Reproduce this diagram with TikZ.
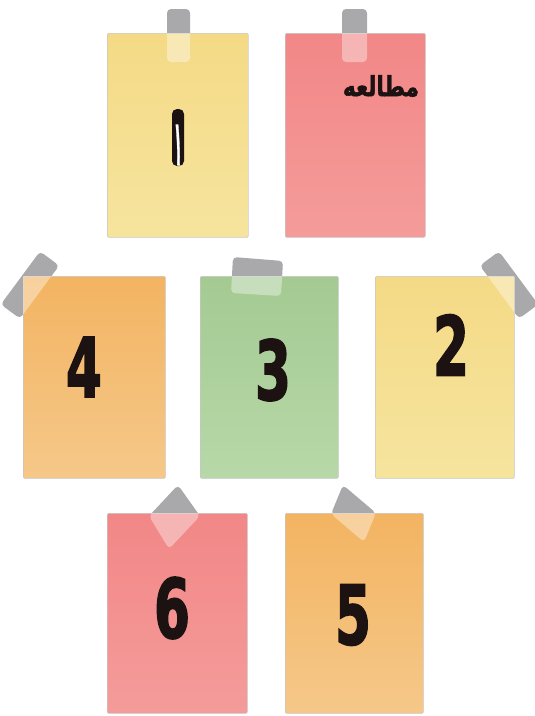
\documentclass[tikz,border=0pt]{standalone}
\usepackage{fontspec}
\usepackage{graphicx}
\TeXXeTstate=1
\newfontfamily\arabicfont[Script=Arabic, BoldFeatures={FakeBold=2}]{DejaVu Sans}
\newfontfamily\numfont[BoldFeatures={FakeBold=2.2}]{DejaVu Sans Condensed}
\definecolor{tapegray}{HTML}{A9A9AB}
\definecolor{yellowA}{HTML}{F4DA86}
\definecolor{yellowB}{HTML}{F6E49E}
\definecolor{redA}{HTML}{F28787}
\definecolor{redB}{HTML}{F49C9A}
\definecolor{orangeA}{HTML}{F3B462}
\definecolor{orangeB}{HTML}{F5C889}
\definecolor{greenA}{HTML}{A4CA92}
\definecolor{greenB}{HTML}{B7D8A8}
\definecolor{inkdark}{HTML}{1C1212}
\tikzset{
  note/.style={draw=black!22, line width=0.6pt, rounded corners=1.2pt, inner sep=0pt, anchor=north west},
  tape/.style={fill=tapegray, rounded corners=4pt},
  tapelight/.style={fill=white, opacity=0.38, rounded corners=4pt},
  num/.style={inner sep=0pt, text=inkdark, font=\fontsize{82}{82}\selectfont\numfont\bfseries},
}
\begin{document}
\begin{tikzpicture}[x=1pt,y=-1pt]
\useasboundingbox[fill=white] (0,0) rectangle (535,716);

% ---------- tapes behind notes ----------
\fill[tape] (167,9) rectangle (190,62);
\fill[tape] (342,9) rectangle (367,62);
\fill[tape] (20,318.6) -- (0.8,304.4) -- (40,251.4) -- (59.2,265.6) -- cycle;
\fill[tape] (233,257) -- (283,261) -- (281,296) -- (231,293) -- cycle;
\fill[tape] (538.2,304.4) -- (519,318.6) -- (479.8,265.6) -- (499,251.4) -- cycle;
\fill[tape] (178,485) -- (200,516) -- (169,549) -- (149,516) -- cycle;
\fill[tape] (343,485) -- (376,513) -- (364,542) -- (331,514) -- cycle;

% ---------- notes ----------
\node[note, top color=yellowA, bottom color=yellowB, minimum width=141pt, minimum height=204pt] (n1) at (107,33) {};
\node[note, top color=redA, bottom color=redB, minimum width=140pt, minimum height=204pt] (nr) at (285,33) {};
\node[note, top color=orangeA, bottom color=orangeB, minimum width=142pt, minimum height=202pt] (n4) at (23,276) {};
\node[note, top color=greenA, bottom color=greenB, minimum width=138pt, minimum height=202pt] (n3) at (200,276) {};
\node[note, top color=yellowA, bottom color=yellowB, minimum width=139pt, minimum height=202pt] (n2) at (375,276) {};
\node[note, top color=redA, bottom color=redB, minimum width=140pt, minimum height=200pt] (n6) at (107,513) {};
\node[note, top color=orangeA, bottom color=orangeB, minimum width=138pt, minimum height=200pt] (n5) at (285,513) {};

% ---------- tape parts lying on the notes ----------
\begin{scope}
\clip (n1.south west) rectangle (n1.north east);
\fill[tapelight] (167,9) rectangle (190,62);
\end{scope}
\begin{scope}
\clip (nr.south west) rectangle (nr.north east);
\fill[tapelight] (342,9) rectangle (367,62);
\end{scope}
\begin{scope}
\clip (n4.south west) rectangle (n4.north east);
\fill[tapelight] (20,318.6) -- (0.8,304.4) -- (40,251.4) -- (59.2,265.6) -- cycle;
\end{scope}
\begin{scope}
\clip (n3.south west) rectangle (n3.north east);
\fill[tapelight] (233,257) -- (283,261) -- (281,296) -- (231,293) -- cycle;
\end{scope}
\begin{scope}
\clip (n2.south west) rectangle (n2.north east);
\fill[tapelight] (538.2,304.4) -- (519,318.6) -- (479.8,265.6) -- (499,251.4) -- cycle;
\end{scope}
\begin{scope}
\clip (n6.south west) rectangle (n6.north east);
\fill[tapelight] (178,485) -- (200,516) -- (169,549) -- (149,516) -- cycle;
\end{scope}
\begin{scope}
\clip (n5.south west) rectangle (n5.north east);
\fill[tapelight] (343,485) -- (376,513) -- (364,542) -- (331,514) -- cycle;
\end{scope}

% ---------- texts ----------
\fill[inkdark, rounded corners=5pt] (172,109) rectangle (184,166);
\node[inner sep=0pt, text=white] (one) at (178,145)
  {\resizebox{8pt}{40pt}{\arabicfont\bfseries\beginR ۱\endR}};
\node[inner sep=0pt, text=inkdark] (study) at (381,86)
  {\resizebox{76pt}{21pt}{\arabicfont\bfseries\beginR مطالعه\endR}};
\node[num] (t4) at (84,367) {\scalebox{0.7}[1]{4}};
\node[num] (t3) at (273,370) {\scalebox{0.7}[1]{3}};
\node[num] (t2) at (451,345) {\scalebox{0.7}[1]{2}};
\node[num] (t6) at (172,608) {\scalebox{0.7}[1]{6}};
\node[num] (t5) at (353,615) {\scalebox{0.7}[1]{5}};
\end{tikzpicture}
\end{document}
